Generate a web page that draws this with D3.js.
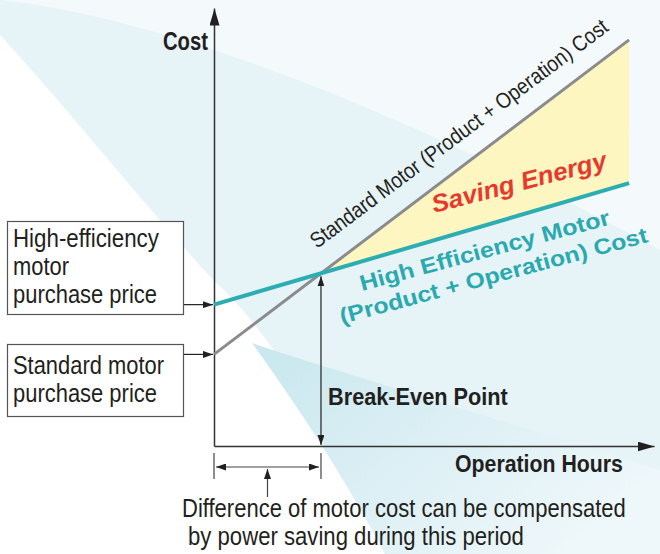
<!DOCTYPE html>
<html lang="en">
<head>
<meta charset="UTF-8">
<title>Break-Even Point</title>
<script src="https://d3js.org/d3.v7.min.js"></script>
<style>
  body { margin: 0; background: #fff; }
  svg { display: block; }
  text { font-family: "Liberation Sans Narrow", "Arial Narrow", "Liberation Sans", Arial, sans-serif; fill: #231f20; }
  .wide { font-family: "Liberation Sans", Arial, sans-serif; }
</style>
</head>
<body>
<svg id="chart" width="660" height="554"></svg>
<script>
// operation hours (arbitrary units) at the start and end of each cost line
const hours = [0, 100];
const standardCost = [23, 102];
const highEffCost = [35.5, 66];
const hoursMax = 106;   // where the axis arrows stop
const costMax = 110;

const svg = d3.select("#chart");
const x = d3.scaleLinear().domain([0, hoursMax]).range([214, 654]);
const y = d3.scaleLinear().domain([0, costMax]).range([446, 8]);

// break-even point = where the two cost lines cross
const slopeS = (standardCost[1] - standardCost[0]) / (hours[1] - hours[0]);
const slopeH = (highEffCost[1] - highEffCost[0]) / (hours[1] - hours[0]);
const beHours = (highEffCost[0] - standardCost[0]) / (slopeS - slopeH);
const beCost = standardCost[0] + slopeS * beHours;

// ---- background swooshes ----
const defs = svg.append("defs");
const grad = defs.append("linearGradient").attr("id", "cyanFade")
  .attr("x1", "0%").attr("y1", "0%").attr("x2", "100%").attr("y2", "60%");
grad.append("stop").attr("offset", "0%").attr("stop-color", "#c8e7ee");
grad.append("stop").attr("offset", "100%").attr("stop-color", "#eef7fa");

const bg = svg.append("g");
bg.append("rect").attr("width", 660).attr("height", 554).attr("fill", "#f4fafc");
bg.append("path")
  .attr("d", "M0,0 C180,20 420,120 660,250 L660,554 L385,554 C330,440 280,340 213,280 C140,200 60,100 0,35 Z")
  .attr("fill", "#e6f3f7");
bg.append("path")
  .attr("d", "M0,35 C60,100 140,200 213,280 C280,340 330,440 385,554 L0,554 Z")
  .attr("fill", "#ffffff");
bg.append("path")
  .attr("d", "M252,343 C300,360 500,420 660,470 L660,554 L385,554 C340,470 300,410 252,343 Z")
  .attr("fill", "url(#cyanFade)");

// ---- arrow markers ----
function marker(id, len, wid) {
  defs.append("marker").attr("id", id)
    .attr("viewBox", `0 0 ${len} ${wid}`)
    .attr("refX", len).attr("refY", wid / 2)
    .attr("markerWidth", len).attr("markerHeight", wid)
    .attr("markerUnits", "userSpaceOnUse")
    .attr("orient", "auto-start-reverse")
    .append("path").attr("d", `M0,0L${len},${wid / 2}L0,${wid}Z`).attr("fill", "#231f20");
}
marker("arrowBig", 17, 10);
marker("arrowSmall", 10, 7);

// ---- axes ----
svg.append("g").attr("transform", `translate(0,${y(0)})`)
  .call(d3.axisBottom(x).tickValues([]).tickSizeOuter(0))
  .call(g => g.select(".domain").attr("stroke", "#333").attr("stroke-width", 1.5)
    .attr("marker-end", "url(#arrowBig)"));
svg.append("g").attr("transform", `translate(${x(0)},0)`)
  .call(d3.axisLeft(y).tickValues([]).tickSizeOuter(0))
  .call(g => g.select(".domain").attr("stroke", "#333").attr("stroke-width", 1.5)
    .attr("marker-end", "url(#arrowBig)"));

// ---- saving area and cost lines ----
const saving = [
  { h: beHours, s: beCost, e: beCost },
  { h: hours[1], s: standardCost[1], e: highEffCost[1] }
];
svg.append("path").datum(saving)
  .attr("d", d3.area().x(d => x(d.h)).y0(d => y(d.e)).y1(d => y(d.s)))
  .attr("fill", "#fdf6c1");

const line = d3.line().x(d => x(d[0])).y(d => y(d[1]));
svg.append("path").datum(d3.zip(hours, standardCost))
  .attr("d", line).attr("fill", "none").attr("stroke", "#8b8b8d").attr("stroke-width", 3);
svg.append("path").datum(d3.zip(hours, highEffCost))
  .attr("d", line).attr("fill", "none").attr("stroke", "#2cadb1").attr("stroke-width", 4);

// ---- break-even markers ----
const xBE = x(beHours);
svg.append("line")
  .attr("x1", xBE).attr("x2", xBE).attr("y1", y(beCost) + 3).attr("y2", y(0) - 1)
  .attr("stroke", "#231f20").attr("stroke-width", 1.2)
  .attr("marker-start", "url(#arrowSmall)").attr("marker-end", "url(#arrowSmall)");

const dim = svg.append("g").attr("stroke", "#444").attr("stroke-width", 1.2);
[x(0), xBE].forEach(px => {
  dim.append("line").attr("x1", px).attr("x2", px).attr("y1", 453).attr("y2", 479);
});
dim.append("line").attr("x1", x(0) + 2).attr("x2", xBE - 2).attr("y1", 467).attr("y2", 467)
  .attr("marker-start", "url(#arrowSmall)").attr("marker-end", "url(#arrowSmall)");
dim.append("line").attr("x1", (x(0) + xBE) / 2).attr("x2", (x(0) + xBE) / 2)
  .attr("y1", 497).attr("y2", 469).attr("marker-end", "url(#arrowSmall)");

// ---- labels ----
// text is squeezed horizontally to the measured width (the original uses a condensed face)
function label(str, px, py, o) {
  const t = svg.append("text")
    .attr("font-size", o.size).attr("font-weight", o.bold ? "bold" : null)
    .attr("font-style", o.italic ? "italic" : null)
    .text(str);
  if (o.cls) t.attr("class", o.cls);
  if (o.color) t.style("fill", o.color);
  const sx = o.len / t.node().getComputedTextLength();
  t.attr("transform", `translate(${px},${py})` + (o.rot ? ` rotate(${o.rot})` : "") + ` scale(${sx},1)`);
  return t;
}

// ---- purchase price boxes ----
const boxes = [
  { lines: ["High-efficiency", "motor", "purchase price"], widths: [146, 56, 144], top: 221, bottom: 314, base: 247, cost: highEffCost[0] },
  { lines: ["Standard motor", "purchase price"], widths: [151, 144], top: 344, bottom: 416, base: 374, cost: standardCost[0] }
];
boxes.forEach(b => {
  svg.append("rect").attr("x", 7.5).attr("y", b.top + 0.5)
    .attr("width", 176).attr("height", b.bottom - b.top)
    .attr("fill", "#fff").attr("stroke", "#555").attr("stroke-width", 1.2);
  b.lines.forEach((t, i) => label(t, 13, b.base + i * 28, { size: 25, len: b.widths[i] }));
  svg.append("line").attr("x1", 184).attr("x2", x(0) - 1)
    .attr("y1", y(b.cost)).attr("y2", y(b.cost))
    .attr("stroke", "#231f20").attr("stroke-width", 1.2).attr("marker-end", "url(#arrowSmall)");
});

label("Cost", 163, 50, { size: 26, bold: true, len: 45 });
label("Operation Hours", 455, 472, { size: 24, bold: true, len: 168 });
label("Break-Even Point", 328, 405, { size: 24, bold: true, len: 180 });
label("Difference of motor cost can be compensated", 182, 517, { size: 25, len: 444 });
label("by power saving during this period", 188, 545, { size: 25, len: 336 });

label("Standard Motor (Product + Operation) Cost", 317, 249, { size: 22, rot: -36.8, len: 366 });
label("Saving Energy", 434, 213, { size: 25, bold: true, italic: true, rot: -14.5, len: 180, cls: "wide", color: "#e8392c" });
label("High Efficiency Motor", 362, 291, { size: 22, bold: true, rot: -15, len: 258, cls: "wide", color: "#2aa9ae" });
label("(Product + Operation) Cost", 342, 324, { size: 22, bold: true, rot: -15, len: 318, cls: "wide", color: "#2aa9ae" });
</script>
</body>
</html>
